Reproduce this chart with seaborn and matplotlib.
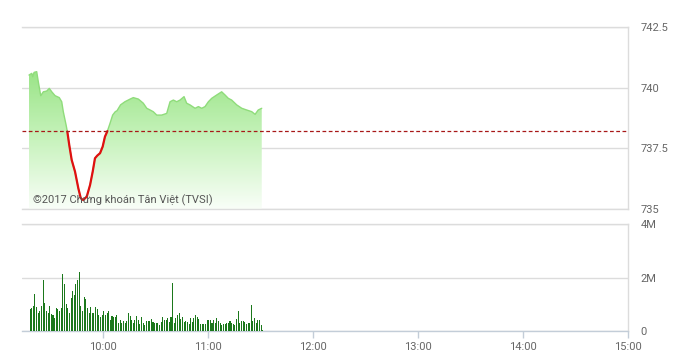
import numpy as np
import matplotlib
matplotlib.use("Agg")
import matplotlib.pyplot as plt
import seaborn as sns
from matplotlib.colors import LinearSegmentedColormap

# ---- data (minutes after 09:00) ----
price_times = [17.7, 19.3, 19.8, 20.6, 22.1, 23.0, 24.4, 25.9, 27.8, 29.3, 30.7, 32.6,
               35.0, 36.4, 37.3, 38.9, 39.6, 40.7, 42.1, 44.0, 45.9, 47.3, 48.7, 50.7,
               52.6, 54.1, 55.4, 56.7, 58.3, 59.8, 61.1, 62.5, 64.0, 65.5, 67.0, 68.0,
               70.0, 72.5, 75.5, 77.3, 80.2, 83.0, 85.0, 86.9, 88.7, 90.7, 93.5, 96.4,
               98.3, 100.2, 102.1, 104.0, 106.3, 107.8, 109.7, 112.6, 114.5, 116.4, 118.3,
               120.2, 122.1, 125.0, 127.8, 129.7, 131.6, 133.5, 136.4, 139.3, 142.1, 145.0,
               146.9, 148.7, 150.7]
price_values = [740.52, 740.59, 740.45, 740.63, 740.66, 740.25, 739.67, 739.83, 739.86, 739.97,
                739.83, 739.67, 739.59, 739.42, 739.01, 738.46, 738.19, 737.64, 737.02, 736.54,
                735.85, 735.44, 735.37, 735.51, 735.99, 736.54, 737.09, 737.20, 737.30, 737.57,
                737.98, 738.21, 738.53, 738.87, 739.01, 739.05, 739.29, 739.42, 739.53, 739.59,
                739.53, 739.36, 739.15, 739.08, 739.01, 738.87, 738.87, 738.94, 739.42, 739.49,
                739.42, 739.49, 739.63, 739.36, 739.29, 739.15, 739.22, 739.15, 739.22, 739.42,
                739.56, 739.70, 739.83, 739.70, 739.56, 739.49, 739.29, 739.15, 739.08, 739.01,
                738.90, 739.08, 739.15]
reference_price = 738.22

volume_start, volume_end = 18.3, 151.3  # first / last bar time (minutes after 09:00)
volume_millions = [
    0.82, 0.86, 0.92, 1.38, 0.88, 0.69, 0.75, 0.95, 1.92, 1.04, 0.73, 0.69, 0.92, 0.63, 0.60,
    0.48, 0.86, 0.83, 0.73, 0.86, 2.14, 1.74, 1.01, 0.86, 0.67, 1.23, 1.48, 1.36, 1.76, 1.89,
    2.21, 0.92, 0.73, 1.28, 1.20, 0.86, 0.67, 0.88, 0.67, 0.67, 0.88, 0.82, 0.60, 0.54, 0.60,
    0.73,
    0.60, 0.69, 0.73, 0.42, 0.57, 0.54, 0.54, 0.60, 0.31, 0.42, 0.29, 0.39, 0.31, 0.39, 0.67,
    0.57, 0.42, 0.29, 0.42, 0.57, 0.42, 0.26, 0.54, 0.29, 0.23, 0.39, 0.39, 0.39, 0.44, 0.35,
    0.31, 0.31, 0.31, 0.23, 0.35, 0.54, 0.42, 0.42, 0.48, 0.35, 0.52, 1.80, 0.31, 0.48, 0.60,
    0.67, 0.44,
    0.54, 0.35, 0.39, 0.35, 0.26, 0.48, 0.35, 0.50, 0.60, 0.54, 0.44, 0.26, 0.26, 0.26, 0.26,
    0.42, 0.42, 0.42, 0.29, 0.42, 0.31, 0.50, 0.39, 0.29, 0.23, 0.26, 0.26, 0.31, 0.29, 0.39,
    0.29, 0.25, 0.23, 0.44, 0.73, 0.29, 0.39, 0.39, 0.35, 0.26, 0.29, 0.29, 0.98, 0.39, 0.48,
    0.31, 0.42, 0.42, 0.23, 0.04]

price_ticks = [735, 737.5, 740, 742.5]
price_tick_labels = ["735", "737.5", "740", "742.5"]
volume_ticks = [0, 2, 4]
volume_tick_labels = ["0", "2M", "4M"]
time_ticks = [60, 120, 180, 240, 300, 360]
time_tick_labels = ["10:00", "11:00", "12:00", "13:00", "14:00", "15:00"]
watermark = "©2017 Chứng khoán Tân Việt (TVSI)"

# ---- style ----
sns.set_theme(style="white")
plt.rcParams["font.family"] = ["Roboto", "DejaVu Sans"]

GRID = "#dcdcdc"
TEXT = "#666666"
AXIS = "#c3cdd8"

fig = plt.figure(figsize=(6.88, 3.64), dpi=100)
W, H = 688, 364
ax1 = fig.add_axes([22 / W, 1 - 209 / H, 606 / W, 182 / H])
ax2 = fig.add_axes([22 / W, 1 - 331 / H, 606 / W, 107 / H])

t = np.array(price_times)
p = np.array(price_values)
XMIN, XMAX = 13.7, 360

# gradient fill under the price line
poly = ax1.fill_between(t, p, price_ticks[0], facecolor="none", edgecolor="none")
grad = np.linspace(0, 1, 256).reshape(-1, 1)
cmap = LinearSegmentedColormap.from_list("g", ["#f9fef8", "#c8f3bd", "#9ae487"])
im = ax1.imshow(grad, extent=[t.min(), t.max(), price_ticks[0], p.max()],
                origin="lower", aspect="auto", cmap=cmap, zorder=1)
im.set_clip_path(poly.get_paths()[0], transform=ax1.transData)

sns.lineplot(x=t, y=p, color="#8fdc7b", linewidth=1.0, ax=ax1, zorder=3)
red = np.where(p <= reference_price + 0.02, p, np.nan)
mask = ~np.isnan(red)
sns.lineplot(x=t[mask], y=red[mask], color="#e01010", linewidth=1.6, ax=ax1, zorder=4)

ax1.axhline(reference_price, color="#a81818", linestyle=(0, (3, 2)), linewidth=0.9, zorder=5)

ax1.set_xlim(XMIN, XMAX)
ax1.set_ylim(price_ticks[0], price_ticks[-1])
ax1.set_yticks(price_ticks)
ax1.set_yticklabels(price_tick_labels)
ax1.set_xticks([])
ax1.yaxis.tick_right()
ax1.grid(axis="y", color=GRID, linewidth=1)
ax1.set_axisbelow(True)
ax1.tick_params(axis="y", length=0, pad=9, labelsize=8, labelcolor=TEXT)
ax1.spines["left"].set_visible(False)
for s in ["top", "bottom", "right"]:
    ax1.spines[s].set_color(GRID)
    ax1.spines[s].set_linewidth(1)
ax1.set_xlabel("")
ax1.set_ylabel("")
ax1.annotate(watermark, xy=(33 / W, 1 - 200 / H), xycoords="figure fraction",
             fontsize=8, color="#555555", va="center", ha="left", zorder=6)

# volume bars
vt = np.linspace(volume_start, volume_end, len(volume_millions))
ax2.bar(vt, volume_millions, width=0.6, color="#1b781b", edgecolor="none",
        linewidth=0, antialiased=False, zorder=3)
ax2.set_xlim(XMIN, XMAX)
ax2.set_ylim(0, 4)
ax2.set_yticks(volume_ticks)
ax2.set_yticklabels(volume_tick_labels)
ax2.yaxis.tick_right()
ax2.set_xticks(time_ticks)
ax2.set_xticklabels(time_tick_labels)
ax2.grid(axis="y", color=GRID, linewidth=1)
ax2.set_axisbelow(True)
ax2.tick_params(axis="y", length=0, pad=9, labelsize=8, labelcolor=TEXT)
ax2.tick_params(axis="x", length=5, width=1, color=AXIS, pad=3, labelsize=8, labelcolor=TEXT,
                bottom=True)
ax2.spines["left"].set_visible(False)
ax2.spines["top"].set_color(GRID)
ax2.spines["right"].set_color(GRID)
ax2.spines["bottom"].set_color(AXIS)
for s in ["top", "bottom", "right"]:
    ax2.spines[s].set_linewidth(1)

fig.savefig("out.png", dpi=100, facecolor="white")
